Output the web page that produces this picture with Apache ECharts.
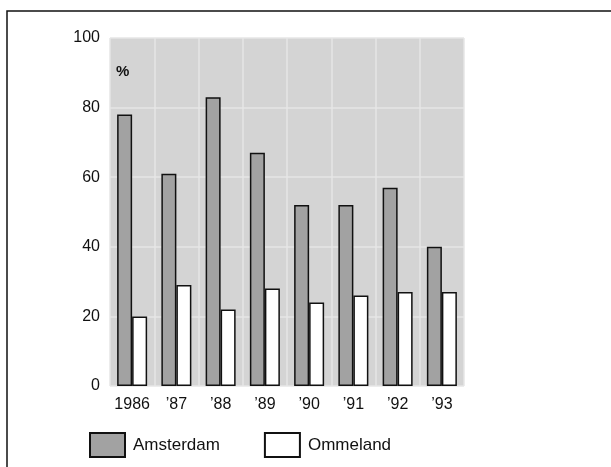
<!DOCTYPE html>
<html>
<head>
<meta charset="utf-8">
<script src="https://cdn.jsdelivr.net/npm/echarts@6/dist/echarts.min.js"></script>
<style>
  html, body { margin: 0; padding: 0; background: #fff; }
  #chart { width: 611px; height: 467px; }
</style>
</head>
<body>
<div id="chart"></div>
<script>
var years = ['1986', '\u201987', '\u201988', '\u201989', '\u201990', '\u201991', '\u201992', '\u201993'];
var amsterdam = [78, 61, 83, 67, 52, 52, 57, 40];
var ommeland = [20, 29, 22, 28, 24, 26, 27, 27];
var yTicks = [0, 20, 40, 60, 80, 100];

var FONT = '"Liberation Sans", Arial, sans-serif';

var myChart = echarts.init(document.getElementById('chart'));
var Options = {
  animation: false,
  backgroundColor: '#fff',
  grid: {
    left: 110,
    right: 147,
    top: 38,
    bottom: 81,
    show: true,
    backgroundColor: '#d4d4d4',
    borderWidth: 0
  },
  graphic: [{
    type: 'rect',
    shape: { x: 7, y: 11, width: 700, height: 500 },
    style: { fill: 'none', stroke: '#111', lineWidth: 1.5 }
  }, {
    type: 'text',
    left: 116,
    top: 64,
    style: { text: '%', font: 'bold 15px ' + FONT, fill: '#111' }
  }],
  legend: {
    left: 84,
    top: 427,
    icon: 'rect',
    itemWidth: 35,
    itemHeight: 24,
    itemGap: 44,
    textStyle: { fontFamily: FONT, fontSize: 17, color: '#111', padding: [0, 0, 0, 3] },
    data: ['Amsterdam', 'Ommeland']
  },
  xAxis: [{
    type: 'category',
    data: years,
    axisLine: { show: false },
    axisTick: { show: false },
    axisLabel: { interval: 0, fontFamily: FONT, fontSize: 16, color: '#111', margin: 11 },
    splitLine: { show: true, interval: 0, lineStyle: { color: '#e6e6e6', width: 1.5 } }
  }],
  yAxis: [{
    type: 'value',
    min: yTicks[0],
    max: yTicks[yTicks.length - 1],
    interval: 20,
    axisLine: { show: false },
    axisTick: { show: false },
    axisLabel: { fontFamily: FONT, fontSize: 16, color: '#111', margin: 10 },
    splitLine: { show: true, lineStyle: { color: '#e6e6e6', width: 1.5 } }
  }],
  series: [{
    name: 'Amsterdam',
    type: 'bar',
    data: amsterdam,
    barWidth: 15,
    barGap: '0%',
    itemStyle: { color: '#a2a2a2', borderColor: '#111', borderWidth: 1.5 }
  }, {
    name: 'Ommeland',
    type: 'bar',
    data: ommeland,
    barWidth: 15,
    barGap: '0%',
    itemStyle: { color: '#ffffff', borderColor: '#111', borderWidth: 1.5 }
  }]
};
myChart.setOption(Options);
</script>
</body>
</html>
